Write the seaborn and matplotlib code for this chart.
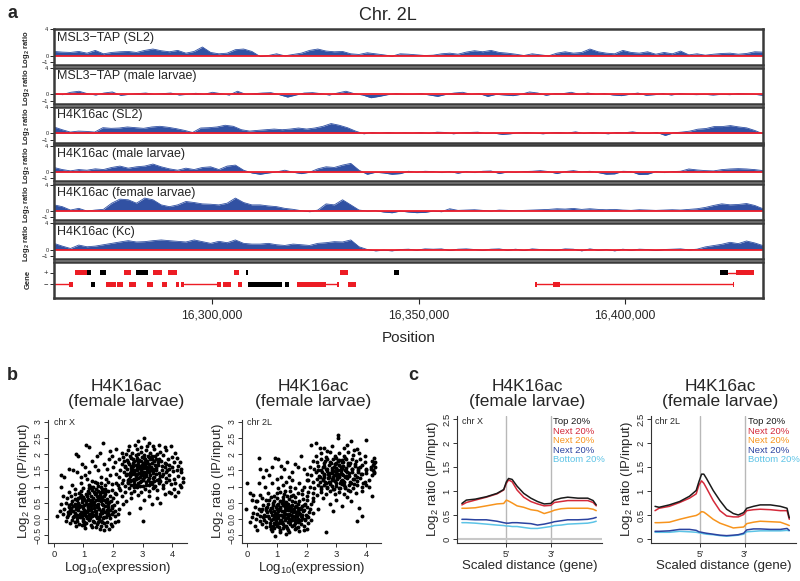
import numpy as np
import pandas as pd
import matplotlib
matplotlib.use("Agg")
import matplotlib.pyplot as plt
import seaborn as sns
from matplotlib.ticker import FuncFormatter

# ---------------------------------------------------------------- data
REGION = (16261650, 16433500)
POS_TICKS = [16300000, 16350000, 16400000]

track_names = ["MSL3\u2212TAP (SL2)", "MSL3\u2212TAP (male larvae)", "H4K16ac (SL2)",
               "H4K16ac (male larvae)", "H4K16ac (female larvae)", "H4K16ac (Kc)"]

msl3_sl2 = [0.62,0.52,0.47,0.62,0.36,0.78,0.26,0.47,0.57,0.62,0.47,0.78,0.99,0.73,0.57,0.78,0.36,0.62,1.30,0.47,0.26,0.36,
            0.89,0.99,0.62,-0.15,0.0,0.26,-0.05,0.16,0.36,0.78,0.99,0.68,0.57,0.62,0.26,0.16,0.42,0.26,0.10,-0.10,0.26,0.20,
            0.10,0.0,0.05,0.26,0.36,0.20,0.52,0.73,0.57,0.78,0.47,0.36,0.20,0.0,0.26,0.10,-0.05,0.36,0.57,0.36,0.47,0.99,
            0.57,0.36,0.26,0.78,0.47,0.36,0.57,0.20,0.47,0.26,0.68,0.10,0.26,0.05,0.20,0.31,0.36,0.20,0.31,0.57,0.52]
msl3_male = [0.10,-0.05,0.31,0.47,0.10,-0.10,0.20,0.36,-0.15,0.0,0.10,0.20,0.0,0.10,0.20,-0.10,0.0,0.16,0.0,0.31,0.10,-0.10,
             0.47,0.0,0.10,0.20,0.26,-0.05,-0.42,-0.10,0.20,0.26,0.10,-0.10,0.20,0.47,0.10,-0.10,-0.52,-0.31,-0.05,0.10,0.0,
             0.0,0.10,-0.10,-0.31,0.0,0.20,0.31,0.0,0.10,-0.31,0.0,-0.10,-0.20,0.0,0.36,0.20,-0.15,0.10,0.10,0.31,0.0,0.20,
             0.0,0.10,-0.10,-0.20,0.0,0.20,-0.15,-0.05,0.10,-0.10,0.10,0.0,-0.05,0.0,-0.10,0.0,-0.05,0.10,0.05,0.0,-0.15]
h4_sl2 = [0.94,0.52,0.16,0.31,0.26,0.16,0.83,0.73,0.78,0.94,0.83,0.73,0.94,1.04,0.89,0.68,0.42,0.10,0.78,0.83,0.94,1.20,
          1.04,0.52,0.31,0.42,0.52,0.62,0.52,0.62,0.78,0.62,0.78,1.04,1.46,1.20,0.83,0.31,-0.10,0.10,0.0,0.10,0.0,
          0.05,0.0,0.10,-0.05,0.15,0.10,-0.10,0.05,0.10,0.15,-0.05,0.0,-0.20,-0.10,0.05,0.10,0.0,-0.10,0.05,0.10,0.0,0.20,
          -0.05,0.10,0.0,-0.10,0.10,0.05,0.20,0.0,-0.05,0.10,-0.35,0.05,0.15,0.30,0.60,0.70,1.00,1.00,1.15,0.95,0.80,0.40,-0.10]
h4_male = [0.68,0.36,0.16,0.36,0.26,0.47,0.36,0.68,0.89,0.57,0.78,0.89,1.20,0.78,0.47,0.26,0.57,0.36,0.68,0.78,0.36,0.89,
           1.04,0.26,-0.16,-0.36,-0.16,0.0,0.26,-0.05,-0.26,-0.05,0.47,0.78,0.68,1.04,1.30,0.26,-0.36,-0.05,-0.16,-0.36,-0.26,
           0.10,-0.05,0.10,0.05,-0.10,0.05,-0.20,0.05,-0.10,0.10,0.15,-0.25,0.0,-0.05,0.05,0.10,0.20,0.05,-0.25,0.05,0.20,
           0.0,0.10,-0.10,-0.35,-0.30,0.10,0.05,-0.40,-0.35,0.05,-0.10,0.05,0.10,0.45,0.30,0.20,0.15,0.35,0.45,0.50,0.45,0.35,0.20]
h4_female = [0.89,0.62,0.10,0.36,-0.05,0.10,0.21,1.15,1.77,1.67,1.15,1.93,1.67,0.89,0.62,0.89,1.41,1.25,1.04,0.99,0.89,1.15,
             1.93,1.25,0.89,0.89,0.73,0.62,0.36,0.21,0.0,-0.15,0.10,1.04,0.89,1.67,0.89,0.10,-0.05,0.0,-0.20,-0.31,-0.05,
             -0.20,-0.30,-0.25,-0.05,-0.15,0.30,0.05,0.10,0.15,0.05,-0.05,0.10,0.05,0.0,0.05,0.10,0.15,0.20,0.30,0.25,0.35,
             0.20,0.30,0.20,0.15,0.20,0.10,0.05,0.15,0.10,0.05,0.10,0.15,0.10,0.20,0.30,0.50,0.80,1.05,0.90,0.95,1.10,0.80,0.30]
h4_kc = [0.94,0.52,0.16,0.68,0.42,0.52,0.73,0.94,1.15,1.35,1.15,1.20,1.35,1.46,1.35,1.25,1.15,1.46,1.20,0.94,1.25,1.04,
         1.46,0.94,0.83,0.83,0.94,0.73,0.62,0.83,0.73,0.62,0.94,1.04,1.20,1.15,1.46,0.42,0.0,-0.20,-0.10,-0.20,0.0,
         0.05,-0.10,0.10,0.05,0.10,-0.15,0.05,0.10,0.0,-0.10,0.05,0.10,-0.10,0.05,-0.15,0.10,0.0,-0.05,-0.10,0.10,0.05,
         -0.20,0.10,-0.10,0.0,-0.20,0.05,-0.10,0.05,0.0,-0.15,0.0,0.05,0.10,-0.05,0.05,0.40,0.60,0.80,1.10,0.90,1.30,1.00,0.60]
tracks = [msl3_sl2, msl3_male, h4_sl2, h4_male, h4_female, h4_kc]

# gene models (start, end)
plus_red = [(16266750,16269660),(16278640,16280340),(16285680,16287870),(16289320,16291500),
            (16305340,16306550),(16331070,16333010),(16426930,16431300)]
plus_black = [(16269660,16270630),(16272820,16274270),(16281550,16284470),(16308250,16308740),
              (16344170,16345390),(16423050,16424990)]
plus_introns = [(16424990,16426930)]
minus_red = [(16265290,16266270),(16274270,16276700),(16276940,16278400),(16279860,16281550),
             (16284220,16285680),(16287870,16289080),(16291260,16291990),(16292480,16293200),
             (16301210,16302180),(16302670,16304610),(16306310,16307280),(16320630,16327670),
             (16330340,16330820),(16333010,16334950),(16378200,16378630),(16382520,16384220),
             (16426200,16426450)]
minus_black = [(16270630,16271600),(16308740,16316990),(16317720,16318690)]
minus_introns = [(16261650,16265290),(16293200,16301210),(16327670,16330340),(16378630,16426200)]

# panel b scatter points (log10 expression, log2 ratio)
chrX_pts = [
 (0.75,-0.22),(1.05,-0.28),(1.3,-0.25),(1.55,-0.3),(1.7,-0.33),(1.85,-0.3),(1.6,-0.2),(1.95,-0.22),(0.95,-0.18),
 (0.4,-0.05),(0.55,-0.12),(0.7,-0.08),(0.85,-0.15),(0.98,-0.05),(1.1,-0.12),(1.2,-0.02),(1.35,-0.1),(1.45,-0.15),
 (1.58,-0.05),(1.7,-0.12),(1.8,-0.08),(1.92,-0.15),(2.05,-0.1),(1.25,-0.18),(0.62,-0.02),(1.02,-0.17),(1.52,-0.01),(2.15,-0.05),
 (0.1,0.1),(0.3,0.15),(0.45,0.05),(0.55,0.18),(0.68,0.1),(0.78,0.02),(0.88,0.15),(0.95,0.08),(1.05,0.12),(1.12,0.03),
 (1.22,0.17),(1.3,0.08),(1.38,0.14),(1.46,0.02),(1.55,0.1),(1.62,0.18),(1.7,0.05),(1.78,0.13),(1.88,0.02),(1.95,0.16),
 (2.05,0.08),(2.15,0.15),(0.72,0.19),(1.17,0.12),(1.5,0.07),(1.85,0.11),(1.0,0.0),(1.41,0.19),
 (0.2,0.25),(0.35,0.3),(0.48,0.22),(0.58,0.35),(0.65,0.26),(0.75,0.38),(0.82,0.28),(0.9,0.22),(0.98,0.33),(1.06,0.25),
 (1.14,0.37),(1.2,0.28),(1.28,0.22),(1.35,0.34),(1.42,0.26),(1.5,0.38),(1.58,0.24),(1.66,0.32),(1.74,0.22),(1.82,0.36),
 (1.9,0.27),(1.98,0.33),(2.08,0.24),(2.2,0.3),(0.52,0.38),(0.86,0.36),(1.25,0.39),(1.62,0.21),(1.44,0.36),(1.04,0.21),
 (0.25,0.45),(0.4,0.5),(0.5,0.42),(0.6,0.55),(0.7,0.46),(0.78,0.58),(0.86,0.44),(0.94,0.52),(1.02,0.43),(1.1,0.56),
 (1.18,0.47),(1.26,0.54),(1.34,0.42),(1.42,0.58),(1.5,0.45),(1.58,0.55),(1.66,0.43),(1.75,0.52),(1.84,0.46),(1.93,0.57),
 (2.02,0.44),(2.12,0.53),(0.66,0.41),(0.98,0.59),(1.3,0.49),(1.54,0.59),(1.14,0.41),(1.7,0.58),
 (0.3,0.7),(0.45,0.65),(0.58,0.72),(0.7,0.78),(0.82,0.64),(0.9,0.75),(1.0,0.68),(1.08,0.78),(1.16,0.62),(1.24,0.72),
 (1.32,0.66),(1.4,0.77),(1.48,0.63),(1.56,0.74),(1.64,0.67),(1.72,0.78),(1.8,0.62),(1.9,0.72),(2.0,0.66),(2.1,0.76),
 (1.2,0.79),(1.6,0.61),(0.95,0.61),
 (0.5,0.85),(0.7,0.92),(0.85,0.82),(1.0,0.95),(1.15,0.86),(1.25,0.98),(1.35,0.84),(1.42,0.93),(1.5,0.87),(1.58,0.99),
 (1.66,0.83),(1.74,0.94),(1.82,0.86),(1.95,0.9),(2.05,0.82),(2.2,0.95),(1.3,0.9),(1.55,0.81),
 (0.6,1.05),(0.9,1.1),(1.2,1.05),(1.38,1.15),(1.48,1.02),(1.6,1.12),(1.72,1.05),(1.82,1.15),(1.95,1.08),(2.1,1.12),(1.3,1.18),
 (0.25,1.35),(0.35,1.3),(0.5,1.55),(0.65,1.5),(0.75,2.0),(0.8,1.95),(0.78,1.45),(0.95,1.7),(1.05,1.6),(1.1,2.3),
 (1.18,2.22),(1.05,1.35),(1.2,1.45),(1.3,1.8),(1.38,1.65),(1.45,1.95),(1.5,1.5),(1.55,2.05),(1.65,2.35),(1.7,1.7),
 (1.8,1.55),(1.85,1.85),(1.9,2.1),(2.0,1.6),(1.6,1.3),(1.9,1.35),(0.9,1.3),(1.12,1.25),(1.75,1.25),(0.25,0.98),
 (0.65,0.05),(0.73,0.3),(0.81,0.5),(0.89,0.05),(0.93,0.4),(1.01,0.28),(1.07,0.48),(1.09,0.08),(1.13,0.22),(1.19,0.58),
 (1.23,0.02),(1.27,0.32),(1.33,0.14),(1.37,0.52),(1.39,0.24),(1.43,0.08),(1.47,0.44),(1.53,0.3),(1.57,0.16),(1.61,0.48),
 (1.65,0.02),(1.67,0.26),(1.73,0.4),(1.77,0.06),(1.81,0.28),(1.87,0.52),(0.77,0.14),(0.83,0.42),(0.97,0.18),(1.03,0.62),
 (1.15,0.3),(1.21,0.44),(1.29,0.6),(1.45,0.7),(1.53,0.66),(1.59,0.85),(1.63,0.92),(1.69,0.72),(1.76,0.88),(1.41,0.82),
 (1.33,0.98),(1.47,1.1),(0.71,0.62),(0.59,0.48),(0.55,0.28),(0.47,0.12),(0.87,0.68),(0.91,0.88),(1.11,0.72),(1.17,0.95),
 (1.01,-0.1),(1.31,-0.06),(1.49,-0.1),(1.63,-0.08),(1.75,-0.2),(0.79,-0.06),(1.41,-0.25),(1.83,0.18),(1.97,0.4),(2.0,0.22),
 (2.3,0.7),(2.6,0.65),(2.85,0.75),(3.05,0.6),(3.2,0.72),(3.5,0.65),(3.75,0.78),(2.45,0.55),(3.95,0.8),
 (2.25,0.9),(2.4,0.85),(2.55,0.95),(2.7,0.88),(2.82,0.98),(2.95,0.84),(3.08,0.93),(3.2,0.86),(3.35,0.96),(3.5,0.9),
 (3.7,0.95),(3.9,0.85),(4.05,0.92),(4.3,1.0),(2.62,0.82),
 (2.15,1.05),(2.3,1.12),(2.42,1.02),(2.52,1.15),(2.62,1.06),(2.72,1.18),(2.8,1.04),(2.9,1.13),(3.0,1.03),(3.1,1.16),
 (3.2,1.06),(3.3,1.14),(3.42,1.03),(3.55,1.12),(3.68,1.05),(3.8,1.15),(3.95,1.08),(4.1,1.12),(4.25,1.05),(2.58,1.19),
 (2.95,1.19),(3.38,1.18),
 (2.2,1.3),(2.35,1.22),(2.45,1.35),(2.55,1.25),(2.63,1.38),(2.7,1.23),(2.78,1.33),(2.86,1.26),(2.94,1.37),(3.02,1.24),
 (3.1,1.34),(3.18,1.22),(3.26,1.36),(3.35,1.27),(3.45,1.38),(3.55,1.24),(3.65,1.33),(3.78,1.26),(3.9,1.36),(4.05,1.25),
 (4.2,1.32),(4.35,1.28),(2.5,1.21),(2.82,1.39),(3.06,1.29),(3.4,1.31),
 (2.25,1.5),(2.38,1.45),(2.48,1.56),(2.56,1.43),(2.64,1.54),(2.72,1.46),(2.8,1.58),(2.88,1.42),(2.96,1.52),(3.04,1.45),
 (3.12,1.57),(3.2,1.44),(3.28,1.53),(3.36,1.47),(3.46,1.58),(3.56,1.42),(3.66,1.52),(3.78,1.46),(3.9,1.55),(4.02,1.48),
 (4.15,1.52),(4.3,1.45),(2.6,1.59),(2.92,1.41),(3.15,1.49),(2.7,1.51),(3.0,1.59),
 (2.3,1.7),(2.42,1.65),(2.52,1.75),(2.6,1.63),(2.68,1.72),(2.76,1.66),(2.84,1.77),(2.92,1.64),(3.0,1.73),(3.08,1.66),
 (3.16,1.78),(3.24,1.62),(3.32,1.72),(3.42,1.67),(3.52,1.76),(3.64,1.63),(3.76,1.72),(3.9,1.68),(4.05,1.75),(4.2,1.65),
 (2.72,1.79),(2.96,1.61),(3.2,1.7),
 (2.2,1.85),(2.35,1.92),(2.48,1.83),(2.58,1.95),(2.68,1.86),(2.78,1.97),(2.88,1.82),(2.98,1.93),(3.08,1.85),(3.18,1.96),
 (3.3,1.84),(3.42,1.94),(3.55,1.87),(3.7,1.97),(3.85,1.85),(4.0,1.92),(4.15,1.88),(2.8,1.89),(3.05,1.99),
 (2.3,2.05),(2.5,2.12),(2.65,2.03),(2.8,2.15),(2.95,2.06),(3.1,2.12),(3.25,2.04),(3.4,2.16),(3.6,2.08),(3.8,2.14),
 (4.1,2.05),(2.45,2.0),
 (2.55,2.25),(2.75,2.3),(2.95,2.22),(3.05,2.5),(3.2,2.35),(3.35,2.25),(3.55,2.28),(3.75,2.22),(2.85,2.4),(3.15,2.27),(3.95,2.25),
 (2.5,1.1),(2.56,1.32),(2.6,1.48),(2.66,1.64),(2.7,1.08),(2.74,1.4),(2.8,1.52),(2.84,1.12),(2.86,1.68),(2.9,1.3),
 (2.94,1.8),(2.98,1.45),(3.0,1.2),(3.04,1.62),(3.06,1.88),(3.1,1.4),(3.12,1.05),(3.14,1.72),(3.18,1.5),(3.22,1.28),
 (3.24,1.86),(3.28,1.62),(3.3,1.08),(3.34,1.42),(3.38,1.78),(3.44,1.52),(3.48,1.2),(3.52,1.66),(3.58,1.34),(3.62,1.8),
 (3.7,1.4),(3.74,1.6),(3.84,1.5),(2.62,1.9),(2.76,1.25),(2.88,1.58),(2.92,1.02),(3.02,1.35),(3.08,1.76),(3.2,1.92),
 (3.26,1.14),(3.36,1.56),(3.46,1.84),(2.54,1.7),(2.46,1.4),(2.4,1.6),(2.64,1.2),(2.82,1.82),(2.98,1.68),(3.16,1.6),
 (3.32,1.96),(3.4,1.0),(3.6,1.18),(3.8,1.7),(3.9,1.2),(4.0,1.6),(2.36,1.8),(2.86,2.0),(3.5,2.0),(2.7,0.98),
 (2.35,0.45),(2.55,0.2),(2.9,0.35),(3.0,-0.05),(3.3,0.45),(3.6,0.5),(4.1,0.7),(4.2,0.85),(4.35,1.15),(4.3,1.55),
 (4.25,1.75),(2.1,1.4),(2.05,1.75),(2.1,2.15),(1.95,1.95)]

chr2L_pts = [
 (0.95,-0.52),(1.1,-0.35),(1.4,-0.4),(1.6,-0.32),(1.9,-0.35),(0.8,-0.3),(1.3,-0.45),(2.0,-0.3),
 (0.5,-0.15),(0.65,-0.25),(0.78,-0.12),(0.88,-0.22),(0.98,-0.15),(1.08,-0.26),(1.16,-0.12),(1.25,-0.2),(1.35,-0.28),
 (1.44,-0.14),(1.52,-0.22),(1.6,-0.12),(1.7,-0.25),(1.8,-0.16),(1.9,-0.2),(2.05,-0.13),(1.2,-0.29),(1.65,-0.29),(0.92,-0.28),
 (0.3,0.0),(0.42,-0.05),(0.55,0.06),(0.65,-0.08),(0.74,0.04),(0.82,-0.04),(0.9,0.08),(0.97,-0.07),(1.04,0.03),(1.12,-0.05),
 (1.2,0.07),(1.28,-0.02),(1.36,0.09),(1.44,-0.06),(1.52,0.05),(1.6,-0.03),(1.68,0.08),(1.76,-0.07),(1.85,0.04),(1.94,-0.04),
 (2.05,0.06),(2.15,-0.02),(0.6,0.09),(1.0,0.09),(1.4,0.01),(1.72,0.01),(1.16,-0.09),(0.86,0.0),
 (0.2,0.2),(0.35,0.15),(0.48,0.25),(0.58,0.13),(0.68,0.22),(0.76,0.28),(0.84,0.14),(0.92,0.24),(1.0,0.16),(1.08,0.27),
 (1.15,0.12),(1.23,0.22),(1.31,0.17),(1.39,0.28),(1.47,0.14),(1.55,0.23),(1.63,0.12),(1.71,0.26),(1.79,0.17),(1.88,0.25),
 (1.97,0.13),(2.08,0.22),(2.2,0.18),(1.27,0.29),(0.95,0.11),(1.58,0.29),(0.62,0.29),(1.84,0.11),
 (0.25,0.38),(0.4,0.32),(0.52,0.42),(0.62,0.35),(0.72,0.46),(0.8,0.33),(0.88,0.44),(0.96,0.36),(1.04,0.48),(1.12,0.34),
 (1.2,0.43),(1.28,0.36),(1.36,0.47),(1.44,0.32),(1.52,0.42),(1.6,0.36),(1.7,0.46),(1.8,0.34),(1.9,0.43),(2.02,0.37),
 (2.15,0.45),(1.0,0.31),(1.32,0.4),
 (0.15,0.6),(0.35,0.55),(0.5,0.65),(0.65,0.58),(0.8,0.68),(0.92,0.55),(1.02,0.64),(1.12,0.56),(1.22,0.67),(1.32,0.54),
 (1.42,0.63),(1.52,0.57),(1.62,0.68),(1.75,0.55),(1.88,0.62),(2.0,0.58),(2.2,0.65),
 (0.45,0.75),(0.7,0.8),(0.9,0.72),(1.1,0.85),(1.25,0.78),(1.45,0.88),(1.55,0.75),(1.7,0.82),(1.85,0.78),(2.05,0.85),(1.35,0.72),
 (0.6,1.0),(0.85,1.1),(1.0,1.25),(1.05,0.95),(1.2,1.05),(1.3,1.15),(1.45,1.0),(1.5,1.2),(1.6,0.95),(1.75,1.1),
 (1.9,1.0),(2.0,1.2),(1.15,1.3),(1.4,1.3),(0.4,1.1),
 (0.0,1.1),(0.1,0.8),(0.4,1.9),(0.45,1.55),(0.65,1.5),(0.75,1.35),(0.85,1.6),(0.95,1.9),(1.05,1.85),(1.15,1.65),
 (1.25,1.55),(1.35,1.75),(1.5,1.45),(1.6,1.7),(1.7,1.6),(1.8,1.95),(1.9,1.55),(0.55,1.3),(-0.05,0.3),(0.2,0.75),(0.3,0.55),
 (0.1,-0.1),(0.25,-0.2),(0.15,0.05),(0.35,-0.35),
 (0.72,0.1),(0.78,-0.2),(0.85,0.35),(0.9,-0.12),(0.94,0.18),(0.99,0.42),(1.02,-0.2),(1.06,0.12),(1.1,0.38),(1.14,-0.02),
 (1.18,0.24),(1.22,-0.16),(1.26,0.5),(1.3,0.04),(1.34,0.3),(1.38,-0.1),(1.42,0.16),(1.46,0.4),(1.5,-0.04),(1.54,0.32),
 (1.58,-0.18),(1.62,0.06),(1.66,0.4),(1.7,-0.1),(1.74,0.18),(1.78,0.3),(1.82,-0.02),(1.86,0.4),(0.68,0.38),(0.74,0.58),
 (0.82,0.22),(0.88,0.5),(0.96,0.02),(1.04,0.26),(1.08,-0.12),(1.16,0.5),(1.24,0.12),(1.32,-0.22),(1.4,0.36),(1.48,0.24),
 (1.56,0.1),(1.64,0.22),(1.72,0.34),(1.8,0.08),(1.92,0.28),(2.0,0.1),(2.1,0.3),(0.58,-0.02),(0.5,0.3),(0.45,0.1),
 (1.2,0.6),(1.46,0.7),(1.02,0.8),(1.6,0.52),(1.36,-0.35),(1.12,-0.4),(0.84,-0.38),(1.76,-0.38),(1.96,0.0),(1.28,0.86),
 (2.4,0.3),(2.65,-0.4),(2.8,0.45),(3.0,0.6),(3.2,0.4),(3.5,0.55),(3.7,-0.05),(3.85,0.1),(4.2,0.7),(2.2,0.55),
 (2.55,0.65),(3.35,0.68),(2.9,0.25),
 (2.2,0.8),(2.35,0.75),(2.5,0.85),(2.65,0.78),(2.8,0.88),(2.95,0.76),(3.1,0.85),(3.25,0.78),(3.45,0.86),(3.65,0.8),(3.85,0.88),
 (2.1,1.0),(2.25,0.95),(2.38,1.05),(2.5,0.93),(2.6,1.04),(2.7,0.96),(2.8,1.07),(2.9,0.94),(3.0,1.03),(3.1,0.97),
 (3.2,1.08),(3.3,0.95),(3.42,1.05),(3.55,0.97),(3.7,1.06),(3.85,0.98),(4.0,1.04),
 (2.05,1.2),(2.2,1.15),(2.35,1.25),(2.45,1.13),(2.55,1.24),(2.63,1.16),(2.71,1.27),(2.79,1.14),(2.87,1.23),(2.95,1.17),
 (3.03,1.28),(3.11,1.12),(3.19,1.22),(3.27,1.16),(3.36,1.26),(3.46,1.13),(3.56,1.23),(3.68,1.17),(3.8,1.26),(3.95,1.15),
 (4.1,1.22),(2.9,1.29),(3.15,1.19),(2.6,1.29),
 (2.0,1.4),(2.15,1.35),(2.3,1.45),(2.42,1.33),(2.52,1.44),(2.6,1.36),(2.68,1.47),(2.76,1.32),(2.84,1.42),(2.92,1.35),
 (3.0,1.46),(3.08,1.33),(3.16,1.43),(3.24,1.37),(3.33,1.48),(3.42,1.34),(3.52,1.44),(3.62,1.36),(3.74,1.46),(3.86,1.38),
 (4.0,1.43),(4.2,1.35),(4.28,1.45),(2.72,1.39),(3.05,1.39),(3.3,1.31),
 (2.1,1.6),(2.25,1.55),(2.38,1.65),(2.5,1.53),(2.6,1.63),(2.68,1.56),(2.76,1.67),(2.84,1.52),(2.92,1.62),(3.0,1.55),
 (3.08,1.66),(3.16,1.53),(3.24,1.64),(3.33,1.57),(3.42,1.68),(3.52,1.54),(3.62,1.63),(3.74,1.57),(3.86,1.66),(4.0,1.55),
 (4.15,1.62),(4.22,1.52),(4.3,1.6),(2.95,1.69),(3.2,1.59),
 (2.2,1.8),(2.35,1.75),(2.48,1.85),(2.58,1.73),(2.68,1.84),(2.78,1.76),(2.88,1.87),(2.98,1.72),(3.08,1.83),(3.18,1.77),
 (3.28,1.88),(3.4,1.74),(3.52,1.85),(3.65,1.78),(3.8,1.86),(3.95,1.75),(4.2,1.8),(4.28,1.72),(4.25,1.88),(3.0,1.89),
 (2.3,1.95),(2.5,2.05),(2.65,1.93),(2.8,2.07),(2.95,1.96),(3.1,2.04),(3.25,1.94),(3.4,2.08),(3.55,1.97),(3.75,2.05),
 (3.95,1.95),(2.7,2.1),(3.6,2.12),
 (2.15,2.3),(2.3,2.35),(2.6,2.2),(2.85,2.25),(3.05,2.6),(3.05,2.5),(3.25,2.2),(3.5,2.4),(3.7,2.15),(4.0,2.45),
 (2.45,2.18),(3.35,2.28),
 (2.5,1.0),(2.56,1.22),(2.6,1.38),(2.66,1.54),(2.7,0.98),(2.74,1.3),(2.8,1.42),(2.84,1.02),(2.86,1.58),(2.9,1.2),
 (2.94,1.7),(2.98,1.35),(3.0,1.1),(3.04,1.52),(3.06,1.78),(3.1,1.3),(3.12,0.95),(3.14,1.62),(3.18,1.4),(3.22,1.18),
 (3.24,1.76),(3.28,1.52),(3.3,0.98),(3.34,1.32),(3.38,1.68),(3.44,1.42),(3.48,1.1),(3.52,1.56),(3.58,1.24),(3.62,1.7),
 (3.7,1.3),(3.74,1.5),(3.84,1.4),(2.62,1.8),(2.76,1.15),(2.88,1.48),(2.92,0.92),(3.02,1.25),(3.08,1.66),(3.2,1.82),
 (3.26,1.04),(3.36,1.46),(3.46,1.74),(2.54,1.6),(2.46,1.3),(2.4,1.5),(2.64,1.1),(2.82,1.72),(2.98,1.58),(3.16,1.5),
 (3.32,1.86),(3.4,0.9),(3.6,1.08),(3.8,1.6),(3.9,1.1),(4.0,1.5),(4.22,1.66),(4.26,1.42),(4.3,1.76),(4.18,1.56),
 (1.95,0.45),(2.0,0.7),(1.85,0.9),(3.75,0.35),(4.1,1.0)]

# panel c profiles (scaled position: 0-1 upstream, 1 = 5', 2 = 3', 2-3 downstream)
groups = ["Top 20%", "Next 20%", "Next 20% ", "Next 20%  ", "Bottom 20%"]
group_colors = ["#1a1a1a", "#d42a3a", "#f7941d", "#2b43a0", "#5cc3e6"]

cx_pos = [0,0.1,0.3,0.55,0.79,0.94,1.0,1.05,1.13,1.24,1.39,1.55,1.7,1.85,2.0,2.08,2.23,2.38,2.61,2.83,2.95,3.02]
cx_top = [0.74,0.81,0.83,0.88,0.95,1.03,1.19,1.26,1.24,1.10,0.95,0.85,0.78,0.73,0.74,0.81,0.85,0.87,0.85,0.85,0.80,0.71]
cx_n1 = [0.71,0.76,0.81,0.87,0.94,1.02,1.16,1.23,1.19,1.02,0.87,0.78,0.73,0.69,0.70,0.76,0.78,0.80,0.80,0.80,0.76,0.69]
cx_n2 = [0.64,0.64,0.65,0.69,0.73,0.74,0.81,0.79,0.75,0.69,0.66,0.61,0.59,0.53,0.57,0.60,0.63,0.64,0.64,0.64,0.62,0.59]
cx_n3 = [0.41,0.41,0.40,0.40,0.37,0.34,0.33,0.33,0.34,0.34,0.33,0.32,0.29,0.31,0.34,0.36,0.38,0.40,0.40,0.41,0.43,0.45]
cx_bot = [0.34,0.34,0.33,0.31,0.29,0.28,0.27,0.27,0.26,0.26,0.24,0.22,0.22,0.24,0.26,0.28,0.29,0.31,0.32,0.33,0.35,0.37]

c2l_pos = [0,0.09,0.32,0.55,0.77,0.92,0.98,1.04,1.09,1.15,1.3,1.45,1.6,1.75,1.86,1.98,2.05,2.2,2.35,2.58,2.8,2.95,3.0]
c2l_top = [0.68,0.66,0.71,0.78,0.89,1.01,1.19,1.35,1.35,1.26,1.01,0.80,0.62,0.53,0.50,0.55,0.64,0.68,0.71,0.71,0.68,0.64,0.44]
c2l_n1 = [0.59,0.64,0.68,0.76,0.85,0.94,1.12,1.21,1.16,1.06,0.80,0.59,0.48,0.46,0.46,0.51,0.59,0.61,0.62,0.61,0.59,0.59,0.41]
c2l_n2 = [0.34,0.34,0.35,0.41,0.46,0.49,0.52,0.57,0.56,0.52,0.41,0.33,0.28,0.23,0.24,0.25,0.32,0.35,0.37,0.36,0.35,0.30,0.28]
c2l_n3 = [0.16,0.16,0.17,0.20,0.20,0.18,0.15,0.14,0.13,0.12,0.10,0.08,0.07,0.08,0.09,0.12,0.19,0.21,0.21,0.20,0.20,0.22,0.18]
c2l_bot = [0.14,0.14,0.14,0.16,0.15,0.14,0.13,0.12,0.11,0.10,0.09,0.07,0.06,0.07,0.08,0.10,0.15,0.16,0.17,0.17,0.17,0.18,0.17]

# ---------------------------------------------------------------- style
sns.set_theme(style="ticks")
plt.rcParams["font.family"] = ["Liberation Sans", "DejaVu Sans"]
plt.rcParams["mathtext.fontset"] = "custom"
plt.rcParams["mathtext.rm"] = "Liberation Sans"
plt.rcParams["mathtext.it"] = "Liberation Sans:italic"
plt.rcParams["mathtext.bf"] = "Liberation Sans:bold"
plt.rcParams["mathtext.default"] = "regular"
plt.rcParams["axes.unicode_minus"] = True

TRACK_BLUE = "#3151a3"
ZERO_RED = "#ee1c2a"
GENE_RED = "#ec1c24"

W, H = 800, 581
fig = plt.figure(figsize=(W / 100, H / 100), dpi=100)


def axes_px(left, top, width, height):
    return fig.add_axes([left / W, 1 - (top + height) / H, width / W, height / H])


# ---------------------------------------------------------------- panel a
fig.text(12 / W, 1 - 14 / H, "a", fontsize=13, fontweight="bold", ha="center", va="center")
fig.text(388 / W, 1 - 15 / H, "Chr. 2L", fontsize=13, ha="center", va="center")

for i, (name, vals) in enumerate(zip(track_names, tracks)):
    ax = axes_px(54, 29 + 38.8 * i, 709, 36)
    pos = np.linspace(REGION[0], REGION[1], len(vals))
    df = pd.DataFrame({"pos": pos, "ratio": vals})
    ax.fill_between(df["pos"], 0, df["ratio"], color=TRACK_BLUE, lw=0)
    sns.lineplot(data=df, x="pos", y="ratio", color=TRACK_BLUE, lw=0.6, ax=ax)
    ax.axhline(0, color=ZERO_RED, lw=1.3)
    ax.set_xlim(*REGION)
    ax.set_ylim(-1.45, 4.05)
    ax.set_xticks([])
    ax.set_xlabel("")
    ax.set_yticks([4, 0, -1], ["4", "0", "\u22121"], fontsize=4)
    ax.tick_params(axis="y", length=3, width=0.7, pad=1)
    ax.set_ylabel("Log$_2$ ratio", fontsize=5.5, fontweight="bold")
    ax.yaxis.set_label_coords(-0.031, 0.45)
    for sp in ax.spines.values():
        sp.set_color("#3a3a3a")
        sp.set_linewidth(1.8)
    ax.text(0.004, 0.93, name, transform=ax.transAxes, fontsize=9, ha="left", va="top")

gax = axes_px(54, 261.8, 709, 36.2)
for s, e in minus_introns:
    gax.plot([s, e], [-1, -1], color=GENE_RED, lw=1.0)
for s, e in plus_introns:
    gax.plot([s, e], [1, 1], color=GENE_RED, lw=1.0)
for lst, yv, col in [(plus_red, 1, GENE_RED), (plus_black, 1, "black"),
                     (minus_red, -1, GENE_RED), (minus_black, -1, "black")]:
    gax.barh([yv] * len(lst), [e - s for s, e in lst], left=[s for s, e in lst],
             height=0.85, color=col, linewidth=0)
gax.set_xlim(*REGION)
gax.set_ylim(-3.36, 2.84)
gax.set_yticks([1, -1], ["+", "\u2212"], fontsize=5.5)
gax.tick_params(axis="y", length=3, width=0.7, pad=1)
gax.set_ylabel("Gene", fontsize=5.5, fontweight="bold")
gax.yaxis.set_label_coords(-0.031, 0.5)
gax.set_xticks(POS_TICKS)
gax.xaxis.set_major_formatter(FuncFormatter(lambda v, p: f"{int(v):,}"))
gax.tick_params(axis="x", length=4, width=0.8, labelsize=8.8, pad=4)
gax.set_xlabel("Position", fontsize=11, labelpad=7)
for sp in gax.spines.values():
    sp.set_color("#3a3a3a")
    sp.set_linewidth(1.8)

# ---------------------------------------------------------------- panel b
fig.text(12 / W, 1 - 376 / H, "b", fontsize=13, fontweight="bold", ha="center", va="center")
fig.text(413 / W, 1 - 376 / H, "c", fontsize=13, fontweight="bold", ha="center", va="center")

title = "H4K16ac\n(female larvae)"
scatter_specs = [(48, -0.2, chrX_pts, "chr X", 126), (242, -0.17, chr2L_pts, "chr 2L", 313)]
for left, x0, pts, lab, tcx in scatter_specs:
    ax = axes_px(left, 420, 139, 123)
    df = pd.DataFrame(pts, columns=["expr", "ratio"])
    sns.scatterplot(data=df, x="expr", y="ratio", color="black", s=8, linewidth=0, ax=ax)
    ax.set_xlim(x0, 4.5)
    ax.set_ylim(-0.74, 3.06)
    ax.set_xticks([0, 1, 2, 3, 4], ["0", "1", "2", "3", "4"])
    ax.set_yticks([-0.5, 0, 0.5, 1, 1.5, 2, 2.5, 3],
                  ["\u22120.5", "0.0", "0.5", "1", "1.5", "2", "2.5", "3"], rotation=90, va="center")
    ax.tick_params(length=3, width=0.7, labelsize=6.2, color="#333333")
    ax.tick_params(axis="x", pad=2, labelsize=6.8)
    ax.tick_params(axis="y", pad=1)
    ax.set_xlabel("Log$_{10}$(expression)", fontsize=9.5, labelpad=1)
    ax.set_ylabel("Log$_2$ ratio (IP/input)", fontsize=9.5, labelpad=1)
    sns.despine(ax=ax)
    for sp in ("left", "bottom"):
        ax.spines[sp].set_linewidth(0.8)
        ax.spines[sp].set_color("#333333")
    ax.text(0.0, 2.97, lab, fontsize=6.5, ha="left", va="center")
    fig.text(tcx / W, 1 - 394 / H, title, fontsize=12.5, ha="center", va="center", linespacing=1.05)

# ---------------------------------------------------------------- panel c
line_specs = [(457, -0.11, cx_pos, [cx_top, cx_n1, cx_n2, cx_n3, cx_bot], "chr X", 527, 2.05, True),
              (651, -0.09, c2l_pos, [c2l_top, c2l_n1, c2l_n2, c2l_n3, c2l_bot], "chr 2L", 720, 2.07, False)]
for left, x0, xs, series, lab, tcx, legx, zero_line in line_specs:
    ax = axes_px(left, 416, 145, 127)
    rows = []
    for g, ys in zip(groups, series):
        rows += [{"pos": x, "ratio": y, "group": g} for x, y in zip(xs, ys)]
    df = pd.DataFrame(rows)
    ax.axvline(1, color="#b8b8b8", lw=1.0, zorder=0)
    ax.axvline(2, color="#b8b8b8", lw=1.0, zorder=0)
    if zero_line:
        ax.axhline(0, color="#c8c8c8", lw=1.5, zorder=0)
    sns.lineplot(data=df, x="pos", y="ratio", hue="group", hue_order=groups[::-1],
                 palette=dict(zip(groups, group_colors)), lw=1.1, legend=False, ax=ax)
    ax.set_xlim(x0, 3.15)
    ax.set_ylim(-0.083, 2.56)
    ax.set_xticks([1, 2], ["5\u2032", "3\u2032"])
    ax.set_yticks([0, 0.5, 1, 1.5, 2, 2.5], ["0", "0.5", "1", "1.5", "2", "2.5"], rotation=90, va="center")
    ax.tick_params(length=3, width=0.7, labelsize=6.8, color="#333333")
    ax.tick_params(axis="x", pad=2)
    ax.tick_params(axis="y", pad=1)
    ax.set_xlabel("Scaled distance (gene)", fontsize=9.5, labelpad=1)
    ax.set_ylabel("Log$_2$ ratio (IP/input)", fontsize=9.5, labelpad=1)
    sns.despine(ax=ax)
    for sp in ("left", "bottom"):
        ax.spines[sp].set_linewidth(0.8)
        ax.spines[sp].set_color("#333333")
    ax.text(0.0, 2.44, lab, fontsize=6.5, ha="left", va="center")
    for k, (g, col) in enumerate(zip(groups, group_colors)):
        ax.text(legx, 2.44 - 0.198 * k, g.strip(), color=col, fontsize=6.8, ha="left", va="center")
    fig.text(tcx / W, 1 - 394 / H, title, fontsize=12.5, ha="center", va="center", linespacing=1.05)

fig.savefig("out.png", dpi=100)
